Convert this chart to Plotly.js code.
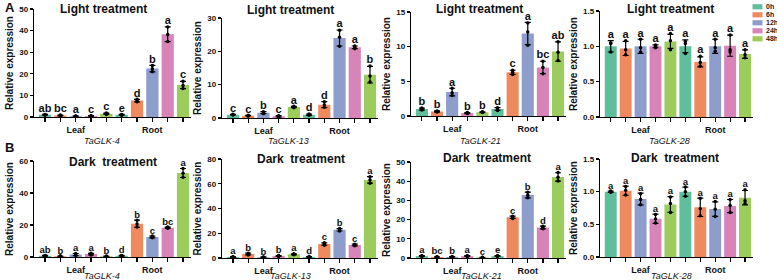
<!DOCTYPE html>
<html>
<head>
<meta charset="utf-8">
<script src="https://cdn.plot.ly/plotly-3.0.1.min.js"></script>
<style>
  html, body { margin: 0; padding: 0; background: #fff; }
  #chart { width: 777px; height: 280px; }
</style>
</head>
<body>
<div id="chart"></div>
<script>
// Sampling times, tissues and genes
const times = ['0h', '6h', '12h', '24h', '48h'];
const tissues = ['Leaf', 'Root'];
const genes = ['TaGLK-4', 'TaGLK-13', 'TaGLK-21', 'TaGLK-28'];

// Bars are ordered Leaf 0h..48h, then Root 0h..48h

// ---- Light treatment ----
const light4Mean = [1.0, 0.7, 0.4, 0.5, 1.5, 1.0, 7.6, 22.4, 38.3, 14.8];
const light4Sd   = [0.2, 0.2, 0.1, 0.1, 0.3, 0.2, 0.6, 1.5, 3.4, 1.7];
const light4Sig  = ['ab', 'bc', 'a', 'c', 'c', 'e', 'd', 'b', 'a', 'c'];
const light4Reps = [[0.8, 1.0, 1.2], [0.5, 0.7, 0.9], [0.3, 0.4, 0.5], [0.4, 0.5, 0.6], [1.2, 1.5, 1.8],
                    [0.8, 1.0, 1.2], [7.1, 7.5, 8.2], [21.0, 22.3, 23.9], [35.0, 38.2, 41.7], [13.2, 14.6, 16.6]];

const light13Mean = [1.0, 0.7, 1.6, 0.5, 3.3, 1.0, 4.0, 24.0, 21.2, 13.0];
const light13Sd   = [0.1, 0.1, 0.3, 0.2, 0.2, 0.2, 0.9, 2.4, 0.4, 2.5];
const light13Sig  = ['c', 'c', 'b', 'c', 'a', 'd', 'd', 'a', 'a', 'b'];
const light13Reps = [[0.9, 1.0, 1.1], [0.6, 0.7, 0.8], [1.3, 1.6, 1.9], [0.3, 0.5, 0.7], [3.1, 3.3, 3.5],
                     [0.8, 1.0, 1.2], [3.2, 3.9, 4.9], [21.5, 24.2, 26.3], [20.8, 21.2, 21.6], [10.8, 12.6, 15.6]];

const light21Mean = [1.0, 0.65, 3.45, 0.42, 0.55, 1.0, 6.3, 11.9, 7.0, 9.3];
const light21Sd   = [0.15, 0.08, 0.55, 0.08, 0.05, 0.2, 0.3, 1.6, 0.9, 1.4];
const light21Sig  = ['b', 'b', 'a', 'b', 'b', 'd', 'c', 'a', 'bc', 'ab'];
const light21Reps = [[0.85, 1.0, 1.15], [0.57, 0.65, 0.73], [2.95, 3.35, 4.0], [0.35, 0.42, 0.5], [0.5, 0.55, 0.6],
                     [0.8, 1.0, 1.2], [6.0, 6.3, 6.6], [10.2, 12.1, 13.4], [6.1, 7.0, 7.9], [8.0, 9.2, 10.7]];

const light28Mean = [1.0, 0.97, 1.0, 1.0, 1.07, 1.0, 0.78, 1.0, 1.01, 0.89];
const light28Sd   = [0.08, 0.1, 0.1, 0.02, 0.1, 0.09, 0.07, 0.1, 0.15, 0.06];
const light28Sig  = ['a', 'a', 'a', 'a', 'a', 'a', 'a', 'a', 'a', 'a'];
const light28Reps = [[0.92, 1.04, 1.05], [0.88, 0.95, 1.08], [0.92, 0.98, 1.1], [0.98, 1.0, 1.02], [0.95, 1.08, 1.18],
                     [0.9, 1.04, 1.07], [0.72, 0.77, 0.86], [0.93, 0.98, 1.1], [0.92, 0.95, 1.16], [0.84, 0.88, 0.95]];

// ---- Dark treatment ----
const dark4Mean = [0.8, 0.5, 1.5, 1.8, 0.4, 0.8, 20.8, 12.5, 18.3, 52.5];
const dark4Sd   = [0.2, 0.1, 0.7, 0.5, 0.1, 0.2, 2.2, 0.6, 0.4, 2.8];
const dark4Sig  = ['ab', 'b', 'a', 'a', 'b', 'd', 'b', 'c', 'bc', 'a'];
const dark4Reps = [[0.6, 0.8, 1.0], [0.4, 0.5, 0.6], [0.9, 1.4, 2.2], [1.3, 1.8, 2.3], [0.3, 0.4, 0.5],
                   [0.6, 0.8, 1.0], [18.8, 20.6, 23.0], [12.0, 12.4, 13.1], [17.9, 18.3, 18.7], [49.8, 52.4, 55.3]];

const dark13Mean = [0.8, 3.2, 0.7, 1.6, 3.0, 0.9, 11.3, 22.8, 10.5, 63.1];
const dark13Sd   = [0.3, 0.7, 0.2, 0.4, 0.4, 0.3, 1.0, 1.0, 0.7, 2.6];
const dark13Sig  = ['a', 'b', 'b', 'b', 'a', 'd', 'c', 'b', 'c', 'a'];
const dark13Reps = [[0.5, 0.8, 1.1], [2.5, 3.2, 3.9], [0.5, 0.7, 0.9], [1.2, 1.6, 2.0], [2.6, 3.0, 3.4],
                    [0.6, 0.9, 1.2], [10.4, 11.1, 12.4], [21.8, 22.8, 23.8], [9.8, 10.5, 11.2], [60.5, 63.0, 65.7]];

const dark21Mean = [1.0, 0.5, 0.6, 1.0, 0.3, 1.0, 21.2, 32.8, 15.9, 42.2];
const dark21Sd   = [0.2, 0.1, 0.1, 0.2, 0.1, 0.2, 0.6, 1.5, 0.7, 2.2];
const dark21Sig  = ['a', 'bc', 'b', 'a', 'c', 'e', 'c', 'b', 'd', 'a'];
const dark21Reps = [[0.8, 1.0, 1.2], [0.4, 0.5, 0.6], [0.5, 0.6, 0.7], [0.8, 1.0, 1.2], [0.2, 0.3, 0.4],
                    [0.8, 1.0, 1.2], [20.6, 21.1, 21.8], [31.4, 32.7, 34.3], [15.2, 15.9, 16.6], [40.1, 42.0, 44.5]];

const dark28Mean = [1.0, 1.015, 0.887, 0.585, 0.805, 1.0, 0.76, 0.733, 0.78, 0.908];
const dark28Sd   = [0.01, 0.07, 0.09, 0.07, 0.12, 0.07, 0.14, 0.11, 0.1, 0.11];
const dark28Sig  = ['a', 'a', 'a', 'a', 'a', 'a', 'a', 'a', 'a', 'a'];
const dark28Reps = [[0.99, 1.0, 1.01], [0.95, 1.02, 1.08], [0.8, 0.88, 0.97], [0.52, 0.58, 0.65], [0.68, 0.82, 0.92],
                    [0.93, 1.0, 1.07], [0.63, 0.74, 0.9], [0.62, 0.73, 0.85], [0.68, 0.79, 0.88], [0.82, 0.86, 1.03]];

// Axis limits and tick steps per panel
const yMax  = [50, 30, 15, 1.5, 60, 80, 50, 1.5];
const yStep = [10, 10, 5, 0.5, 20, 20, 10, 0.5];

// ---- Styling ----
const W = 777, H = 280;
const FONT = 'Arial, "Liberation Sans", sans-serif';
const COLORS = ['#5fbf9d', '#ef8a5f', '#8d9ecd', '#d884b9', '#9ccc5b'];
const px = x => x / W;
const py = y => 1 - y / H;

// Pixel frames of the four columns and the two rows
const cols = [[34, 190.7], [222, 377.6], [411, 565.6], [600, 752.5]];
const rowTop = [[9, 18, 12, 11], [161, 159, 162, 159]];
const rowBottom = [[117, 118, 116, 117], [257, 258, 258, 257]];
const titleY = [[9.5, 10, 8.5, 8.5], [161.5, 159, 158, 158]];
const titleX = [[3.8, 3.75, 3.8, 4.0], [4.4, 4.5, 4.3, 4.3]];
const geneX = [[3.7, 3.65, 3.85, 3.95], [3.7, 3.75, 3.95, 4.05]];
const geneY = [140.5, 276];

const panels = [
  { row: 0, col: 0, gene: genes[0], mean: light4Mean, sd: light4Sd, sig: light4Sig, reps: light4Reps },
  { row: 0, col: 1, gene: genes[1], mean: light13Mean, sd: light13Sd, sig: light13Sig, reps: light13Reps },
  { row: 0, col: 2, gene: genes[2], mean: light21Mean, sd: light21Sd, sig: light21Sig, reps: light21Reps },
  { row: 0, col: 3, gene: genes[3], mean: light28Mean, sd: light28Sd, sig: light28Sig, reps: light28Reps },
  { row: 1, col: 0, gene: genes[0], mean: dark4Mean, sd: dark4Sd, sig: dark4Sig, reps: dark4Reps },
  { row: 1, col: 1, gene: genes[1], mean: dark13Mean, sd: dark13Sd, sig: dark13Sig, reps: dark13Reps },
  { row: 1, col: 2, gene: genes[2], mean: dark21Mean, sd: dark21Sd, sig: dark21Sig, reps: dark21Reps },
  { row: 1, col: 3, gene: genes[3], mean: dark28Mean, sd: dark28Sd, sig: dark28Sig, reps: dark28Reps }
];
const rowTitles = ['Light treatment', 'Dark\u00a0 treatment'];

const data = [];
const layout = {
  width: W, height: H,
  margin: { l: 0, r: 0, t: 0, b: 0 },
  paper_bgcolor: '#fff', plot_bgcolor: 'rgba(0,0,0,0)',
  showlegend: false,
  font: { family: FONT, color: '#111' },
  annotations: [], shapes: []
};

panels.forEach((p, k) => {
  const n = k + 1;
  const xr = n === 1 ? 'x' : 'x' + n;
  const yr = n === 1 ? 'y' : 'y' + n;
  const idx = p.mean.map((_, i) => i);
  const c = cols[p.col];
  const top = rowTop[p.row][p.col], bottom = rowBottom[p.row][p.col];

  // bars with SD error bars
  data.push({
    type: 'bar', x: idx, y: p.mean, xaxis: xr, yaxis: yr,
    marker: { color: idx.map(i => COLORS[i % 5]), line: { width: 0 } },
    error_y: { type: 'data', array: p.sd, visible: true, color: '#000', thickness: 1.2, width: 3 },
    hoverinfo: 'skip'
  });

  // biological replicates
  const dx = [], dy = [];
  p.reps.forEach((r, i) => r.forEach(v => { dx.push(i); dy.push(v); }));
  data.push({
    type: 'scatter', mode: 'markers', x: dx, y: dy, xaxis: xr, yaxis: yr,
    marker: { color: '#000', size: 3.5 }, cliponaxis: false, hoverinfo: 'skip'
  });

  // significance letters above each bar
  const tops = idx.map(i => Math.max(p.mean[i] + p.sd[i], ...p.reps[i]));
  data.push({
    type: 'scatter', mode: 'text', x: idx, y: tops, text: p.sig, xaxis: xr, yaxis: yr,
    textposition: 'top center', cliponaxis: false, hoverinfo: 'skip',
    textfont: { family: FONT, size: p.row === 0 ? 11 : 9.5, weight: 'bold', color: '#111' }
  });

  layout[n === 1 ? 'xaxis' : 'xaxis' + n] = {
    domain: [px(c[0]), px(c[1])], range: [-0.72, 9.5], anchor: yr,
    showline: true, linecolor: '#000', linewidth: 1.2,
    ticks: 'outside', ticklen: 4, tickwidth: 1.2, tickcolor: '#000',
    tickvals: idx, ticktext: idx.map(i => i === 2 ? tissues[0] : (i === 7 ? tissues[1] : '')),
    tickfont: { family: FONT, size: 9, weight: 'bold', color: '#111' },
    zeroline: false, showgrid: false, fixedrange: true
  };
  layout[n === 1 ? 'yaxis' : 'yaxis' + n] = {
    domain: [py(bottom), py(top)], range: [0, yMax[k]], anchor: xr,
    dtick: yStep[k], tickformat: yMax[k] < 5 ? '.1f' : '',
    showline: true, linecolor: '#000', linewidth: 1.2,
    ticks: 'outside', ticklen: 3, tickwidth: 1.2, tickcolor: '#000',
    tickfont: { family: FONT, size: 8, weight: 'bold', color: '#111' },
    title: { text: 'Relative expression', font: { family: FONT, size: 10, weight: 'bold', color: '#111' }, standoff: 3 },
    zeroline: false, showgrid: false, fixedrange: true
  };

  // panel title
  layout.annotations.push({
    text: rowTitles[p.row], xref: xr, x: titleX[p.row][p.col], yref: 'paper', y: py(titleY[p.row][p.col]),
    xanchor: 'center', yanchor: 'middle', showarrow: false,
    font: { family: FONT, size: 12, weight: 'bold', color: '#111' }
  });
  // gene name
  layout.annotations.push({
    text: p.gene, xref: xr, x: geneX[p.row][p.col], yref: 'paper', y: py(geneY[p.row]),
    xanchor: 'center', yanchor: 'middle', showarrow: false,
    font: { family: FONT, size: 9, style: 'italic', color: '#111' }
  });
});

// row labels
[['A', 7], ['B', 147]].forEach(([t, y]) => {
  layout.annotations.push({
    text: t, xref: 'paper', x: px(3), yref: 'paper', y: py(y), xanchor: 'left', yanchor: 'middle',
    showarrow: false, font: { family: FONT, size: 13, weight: 'bold', color: '#111' }
  });
});

// time-point key
times.forEach((t, i) => {
  const yc = 6.8 + i * 8;
  layout.shapes.push({
    type: 'rect', xref: 'paper', yref: 'paper', x0: px(752.5), x1: px(762.5), y0: py(yc + 2.6), y1: py(yc - 2.6),
    fillcolor: COLORS[i], line: { width: 0 }
  });
  layout.annotations.push({
    text: t, xref: 'paper', x: px(764), yref: 'paper', y: py(yc), xanchor: 'left', yanchor: 'middle',
    showarrow: false, font: { family: FONT, size: 7, weight: 'bold', color: '#222' }
  });
});

Plotly.newPlot('chart', data, layout, { staticPlot: true, displayModeBar: false });
</script>
</body>
</html>
